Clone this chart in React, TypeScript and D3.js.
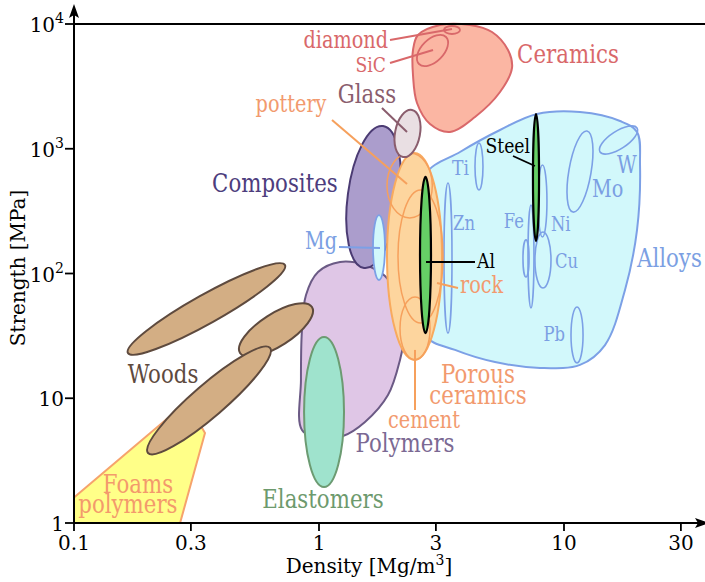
import React from "react";
import * as d3 from "d3";

type Pt = [number, number]; // [density Mg/m3, strength MPa]

// ---- axis ticks ----
const xTicks = [0.1, 0.3, 1, 3, 10, 30];
const xTickLabels = ["0.1", "0.3", "1", "3", "10", "30"];
const yTicks = [1, 10, 100, 1000, 10000];
const yTickBase = ["1", "10", "10", "10", "10"];
const yTickExp = ["", "", "2", "3", "4"];

// ---- material envelopes (density, strength) ----
const foamsEnvelope: Pt[] = [
  [0.1, 1], [0.1, 1.6], [0.289, 9.33], [0.3425, 5.27], [0.271, 1],
];
const polymersEnvelope: Pt[] = [
  [0.852, 5.57], [0.844, 14.0], [0.852, 35.2], [0.885, 67.3], [0.991, 102.8],
  [1.218, 123.7], [1.541, 117], [1.859, 95.5], [2.141, 61.3], [2.244, 35.2],
  [2.141, 20.3], [1.912, 10.6], [1.541, 6.45], [1.253, 4.98], [1.009, 4.8],
];
const ceramicsEnvelope: Pt[] = [
  [2.536, 8163], [3.118, 9817], [4.133, 9817], [5.083, 8629], [5.908, 6187],
  [6.135, 4440], [5.481, 2850], [4.332, 1797], [3.424, 1362], [2.839, 1579],
  [2.512, 2326], [2.419, 3901], [2.419, 6187],
];
const alloysEnvelope: Pt[] = [
  [2.708, 616], [3.763, 942], [5.481, 1413], [7.757, 1899], [11.62, 1970],
  [16.93, 1669], [19.86, 1362], [20.43, 741], [19.86, 223], [17.74, 73.8],
  [14.7, 26.7], [11.62, 18.5], [7.98, 17.5], [5.23, 19.5], [3.59, 24.4],
  [2.708, 32.1], [2.584, 140.7],
];

// ---- tilted ellipses: major-axis ends and minor/major ratio ----
const woodsEllipses: { p1: Pt; p2: Pt; aspect: number }[] = [
  { p1: [0.166, 23.05], p2: [0.726, 117], aspect: 0.16 },
  { p1: [0.476, 23.05], p2: [0.936, 53.9], aspect: 0.38 },
  { p1: [0.2005, 3.64], p2: [0.631, 25.3], aspect: 0.2 },
];
const compositesEllipse = { p1: [1.825, 1522] as Pt, p2: [1.527, 110.7] as Pt, aspect: 0.36 };
const glassEllipse = { p1: [2.397, 2045] as Pt, p2: [2.202, 859] as Pt, aspect: 0.52 };
const sicEllipse = { p1: [2.56, 4779] as Pt, p2: [3.299, 7866] as Pt, aspect: 0.58 };
const moEllipse = { p1: [12.41, 1388] as Pt, p2: [10.88, 311] as Pt, aspect: 0.27 };
const wEllipse = { p1: [14.03, 942] as Pt, p2: [19.86, 1467] as Pt, aspect: 0.4 };

// ---- axis-aligned ellipses: density range, strength range ----
type Range = { d: Pt; s: Pt };
const elastomersRange: Range = { d: [0.869, 1.265], s: [1.94, 31] };
const diamondRange: Range = { d: [3.237, 3.763], s: [8318, 9640] };
const mgRange: Range = { d: [1.661, 1.859], s: [88.7, 294] };
const alloyMemberRanges: Range[] = [
  { d: [4.332, 4.67], s: [467, 1112] },   // Ti
  { d: [3.237, 3.49], s: [33.3, 531] },   // Zn
  { d: [7.13, 7.54], s: [52.9, 354] },    // Fe
  { d: [6.8, 7.2], s: [93.7, 186] },      // Fe (cast)
  { d: [7.61, 8.85], s: [76.5, 215] },    // Cu
  { d: [7.83, 8.52], s: [196, 741] },     // Ni
  { d: [10.68, 11.96], s: [19.2, 53.9] }, // Pb
];
const steelRange: Range = { d: [7.47, 7.91], s: [182, 1899] };
const alRange: Range = { d: [2.584, 2.865], s: [33.3, 594] };
const porousRange: Range = { d: [1.895, 3.177], s: [20.3, 925] };
const porousMemberRanges: Range[] = [
  { d: [1.895, 2.9], s: [279, 925] },     // pottery
  { d: [2.101, 3.207], s: [40.1, 467] },  // rock
  { d: [2.141, 2.839], s: [20.3, 64.8] }, // cement
];

// ---- labels and leader lines ----
type Label = { text: string; at: Pt; anchor: "start" | "middle" | "end"; kind: string; group: string };
const labels: Label[] = [
  { text: "Ceramics", at: [10.38, 4868], anchor: "middle", kind: "major", group: "ceramics" },
  { text: "diamond", at: [1.912, 6421], anchor: "end", kind: "minor", group: "ceramics" },
  { text: "SiC", at: [1.877, 4124], anchor: "end", kind: "small", group: "ceramics" },
  { text: "Glass", at: [1.57, 2326], anchor: "middle", kind: "major", group: "glass" },
  { text: "pottery", at: [0.769, 1970], anchor: "middle", kind: "minor", group: "porous" },
  { text: "Composites", at: [0.661, 450], anchor: "middle", kind: "major", group: "composites" },
  { text: "Mg", at: [1.184, 157], anchor: "end", kind: "minor", group: "alloys" },
  { text: "Ti", at: [3.49, 616], anchor: "start", kind: "small", group: "alloys" },
  { text: "Zn", at: [3.524, 223], anchor: "start", kind: "element", group: "alloys" },
  { text: "Fe", at: [6.866, 231], anchor: "end", kind: "element", group: "alloys" },
  { text: "Ni", at: [8.85, 219], anchor: "start", kind: "element", group: "alloys" },
  { text: "Cu", at: [9.19, 110.7], anchor: "start", kind: "element", group: "alloys" },
  { text: "Mo", at: [13.01, 410], anchor: "start", kind: "minor", group: "alloys" },
  { text: "W", at: [16.46, 639], anchor: "start", kind: "minor", group: "alloys" },
  { text: "Pb", at: [10.09, 28.8], anchor: "end", kind: "element", group: "alloys" },
  { text: "Steel", at: [7.265, 925], anchor: "end", kind: "small", group: "metal" },
  { text: "Al", at: [4.414, 110.7], anchor: "start", kind: "small", group: "metal" },
  { text: "rock", at: [3.763, 69.8], anchor: "start", kind: "minor", group: "porous" },
  { text: "Alloys", at: [19.86, 112.8], anchor: "start", kind: "major", group: "alloys" },
  { text: "Porous", at: [4.457, 13.25], anchor: "middle", kind: "major", group: "porous" },
  { text: "ceramics", at: [4.457, 9.0], anchor: "middle", kind: "major", group: "porous" },
  { text: "cement", at: [2.683, 5.77], anchor: "middle", kind: "minor", group: "porous" },
  { text: "Polymers", at: [2.244, 3.71], anchor: "middle", kind: "major", group: "polymers" },
  { text: "Elastomers", at: [1.038, 1.32], anchor: "middle", kind: "major", group: "elastomers" },
  { text: "Woods", at: [0.2308, 13.25], anchor: "middle", kind: "major", group: "woods" },
  { text: "Foams", at: [0.1825, 1.74], anchor: "middle", kind: "major", group: "foams" },
  { text: "polymers", at: [0.166, 1.2], anchor: "middle", kind: "major", group: "foams" },
];
const leaders: { from: Pt; to: Pt; group: string }[] = [
  { from: [1.949, 7440], to: [3.49, 9120], group: "ceramics" },
  { from: [1.949, 4868], to: [2.92, 6187], group: "ceramics" },
  { from: [1.807, 2121], to: [2.287, 1362], group: "glass" },
  { from: [1.13, 1700], to: [2.287, 522], group: "porous" },
  { from: [1.207, 163], to: [1.774, 160], group: "alloys" },
  { from: [6.193, 875], to: [7.61, 727], group: "metal" },
  { from: [2.734, 123.7], to: [4.332, 123.7], group: "metal" },
  { from: [3.031, 83.9], to: [3.692, 76.5], group: "porous" },
  { from: [2.465, 24.4], to: [2.465, 8.05], group: "porous" },
];

// ---- styling ----
const FONT = "'DejaVu Serif', serif";
const SQUEEZE = 0.82;
const fontSizes: Record<string, number> = { major: 26, minor: 23.5, small: 21, element: 20 };
const palette: Record<string, { fill: string; stroke: string; text: string }> = {
  foams: { fill: "#ffff88", stroke: "#f6a36c", text: "#f39a6c" },
  woods: { fill: "#d3ae84", stroke: "#5e4a3e", text: "#5e4a3e" },
  polymers: { fill: "#dfc6e6", stroke: "#6b5a85", text: "#7b6993" },
  elastomers: { fill: "#9fe3cd", stroke: "#6c9b72", text: "#6d9a6d" },
  ceramics: { fill: "#fbb6a3", stroke: "#d9686a", text: "#d9686a" },
  alloys: { fill: "#d2f8fb", stroke: "#7ca0e6", text: "#7b9fe3" },
  composites: { fill: "#ab9dcc", stroke: "#4b3b73", text: "#4d3d7d" },
  porous: { fill: "#fdd59e", stroke: "#f8aa5e", text: "#f29a6e" },
  glass: { fill: "#e9dfe3", stroke: "#8a5d6d", text: "#8a5d6d" },
  metal: { fill: "#66cf66", stroke: "#000000", text: "#000000" },
};

export default function App() {
  const x = d3.scaleLog().domain([0.1, 10]).range([74, 564]);
  const y = d3.scaleLog().domain([1, 10000]).range([523, 24]);
  const x0 = x(0.1);
  const yBottom = y(1);
  const yTop = y(10000);
  const right = 709;

  const blob = d3
    .line<Pt>()
    .x((p) => x(p[0]))
    .y((p) => y(p[1]))
    .curve(d3.curveCatmullRomClosed.alpha(0.5));
  const polygon = d3
    .line<Pt>()
    .x((p) => x(p[0]))
    .y((p) => y(p[1]))
    .curve(d3.curveLinearClosed);

  const rangeEllipse = (r: Range, fill: string, stroke: string, sw: number, key?: string) => {
    const cx = (x(r.d[0]) + x(r.d[1])) / 2;
    const cy = (y(r.s[0]) + y(r.s[1])) / 2;
    const rx = Math.abs(x(r.d[1]) - x(r.d[0])) / 2;
    const ry = Math.abs(y(r.s[1]) - y(r.s[0])) / 2;
    return <ellipse key={key} cx={cx} cy={cy} rx={rx} ry={ry} fill={fill} stroke={stroke} strokeWidth={sw} />;
  };
  const tiltedEllipse = (e: { p1: Pt; p2: Pt; aspect: number }, fill: string, stroke: string, sw: number, key?: string) => {
    const x1 = x(e.p1[0]), y1 = y(e.p1[1]);
    const x2 = x(e.p2[0]), y2 = y(e.p2[1]);
    const cx = (x1 + x2) / 2, cy = (y1 + y2) / 2;
    const a = Math.hypot(x2 - x1, y2 - y1) / 2;
    const ang = (Math.atan2(y2 - y1, x2 - x1) * 180) / Math.PI;
    return (
      <ellipse key={key} cx={cx} cy={cy} rx={a} ry={a * e.aspect} fill={fill} stroke={stroke} strokeWidth={sw}
        transform={`rotate(${ang} ${cx} ${cy})`} />
    );
  };

  const P = palette;

  return (
    <div style={{ position: "absolute", left: 0, top: 0 }}>
      <svg width={705} height={582} viewBox="0 0 705 582" style={{ display: "block", background: "#fff" }}>
        {/* foams */}
        <path d={polygon(foamsEnvelope) || ""} fill={P.foams.fill} stroke={P.foams.stroke} strokeWidth={2} strokeLinejoin="round" />
        {/* polymers and elastomers */}
        <path d={blob(polymersEnvelope) || ""} fill={P.polymers.fill} stroke={P.polymers.stroke} strokeWidth={2} />
        {rangeEllipse(elastomersRange, P.elastomers.fill, P.elastomers.stroke, 2)}
        {/* woods */}
        {woodsEllipses.map((w, i) => tiltedEllipse(w, P.woods.fill, P.woods.stroke, 2, `w${i}`))}
        {/* ceramics */}
        <path d={blob(ceramicsEnvelope) || ""} fill={P.ceramics.fill} stroke={P.ceramics.stroke} strokeWidth={2} />
        {rangeEllipse(diamondRange, "none", P.ceramics.stroke, 1.8)}
        {tiltedEllipse(sicEllipse, "none", P.ceramics.stroke, 1.8)}
        {/* alloys */}
        <path d={blob(alloysEnvelope) || ""} fill={P.alloys.fill} stroke={P.alloys.stroke} strokeWidth={2} />
        {alloyMemberRanges.map((r, i) => rangeEllipse(r, "none", P.alloys.stroke, 1.6, `a${i}`))}
        {tiltedEllipse(moEllipse, "none", P.alloys.stroke, 1.6)}
        {tiltedEllipse(wEllipse, "none", P.alloys.stroke, 1.6)}
        {rangeEllipse(steelRange, P.metal.fill, P.metal.stroke, 2.2)}
        {/* composites */}
        {tiltedEllipse(compositesEllipse, P.composites.fill, P.composites.stroke, 2)}
        {rangeEllipse(mgRange, P.alloys.fill, P.alloys.stroke, 1.8)}
        {/* porous ceramics */}
        {rangeEllipse(porousRange, P.porous.fill, P.porous.stroke, 2)}
        {porousMemberRanges.map((r, i) => rangeEllipse(r, "none", "#f6a05c", 1.5, `p${i}`))}
        {rangeEllipse(alRange, P.metal.fill, P.metal.stroke, 2.2)}
        {/* glass */}
        {tiltedEllipse(glassEllipse, P.glass.fill, P.glass.stroke, 2)}

        {/* leader lines */}
        {leaders.map((l, i) => (
          <line key={`l${i}`} x1={x(l.from[0])} y1={y(l.from[1])} x2={x(l.to[0])} y2={y(l.to[1])}
            stroke={l.group === "porous" ? "#f6a05c" : P[l.group].stroke} strokeWidth={l.group === "metal" ? 1.8 : 2} />
        ))}

        {/* labels */}
        {labels.map((lb, i) => (
          <text key={`t${i}`} transform={`translate(${x(lb.at[0])},${y(lb.at[1])}) scale(${SQUEEZE},1)`}
            textAnchor={lb.anchor} fontFamily={FONT} fontSize={fontSizes[lb.kind]} fill={P[lb.group].text}>
            {lb.text}
          </text>
        ))}

        {/* axes */}
        <line x1={x0} y1={yTop} x2={705} y2={yTop} stroke="#000" strokeWidth={2} />
        <line x1={x0} y1={yBottom} x2={right - 4} y2={yBottom} stroke="#000" strokeWidth={2} />
        <path d={`M${right},${yBottom} L${right - 14},${yBottom - 5} L${right - 11},${yBottom} L${right - 14},${yBottom + 5} Z`} fill="#000" />
        <line x1={x0} y1={yBottom} x2={x0} y2={9} stroke="#000" strokeWidth={2} />
        <path d={`M${x0},4 L${x0 - 5},18 L${x0},15 L${x0 + 5},18 Z`} fill="#000" />

        {yTicks.map((t, i) => (
          <g key={`yt${i}`}>
            <line x1={x0 - 9} x2={x0} y1={y(t)} y2={y(t)} stroke="#000" strokeWidth={1.8} />
            <text x={x0 - 10} y={y(t) + 8} textAnchor="end" fontFamily={FONT} fontSize={20} fill="#000">
              {yTickBase[i]}
              {yTickExp[i] && (
                <tspan dy={-9} fontSize={14}>{yTickExp[i]}</tspan>
              )}
            </text>
          </g>
        ))}
        {xTicks.map((t, i) => (
          <g key={`xt${i}`}>
            <line x1={x(t)} x2={x(t)} y1={yBottom} y2={yBottom + 8} stroke="#000" strokeWidth={1.8} />
            <text x={x(t)} y={yBottom + 27} textAnchor="middle" fontFamily={FONT} fontSize={20} fill="#000">
              {xTickLabels[i]}
            </text>
          </g>
        ))}

        <text x={369} y={573} textAnchor="middle" fontFamily={FONT} fontSize={20} fill="#000">
          Density [Mg/m<tspan dy={-8} fontSize={14}>3</tspan><tspan dy={8}>]</tspan>
        </text>
        <text transform={`translate(25,268) rotate(-90)`} textAnchor="middle" fontFamily={FONT} fontSize={20} fill="#000">
          Strength [MPa]
        </text>
      </svg>
    </div>
  );
}
